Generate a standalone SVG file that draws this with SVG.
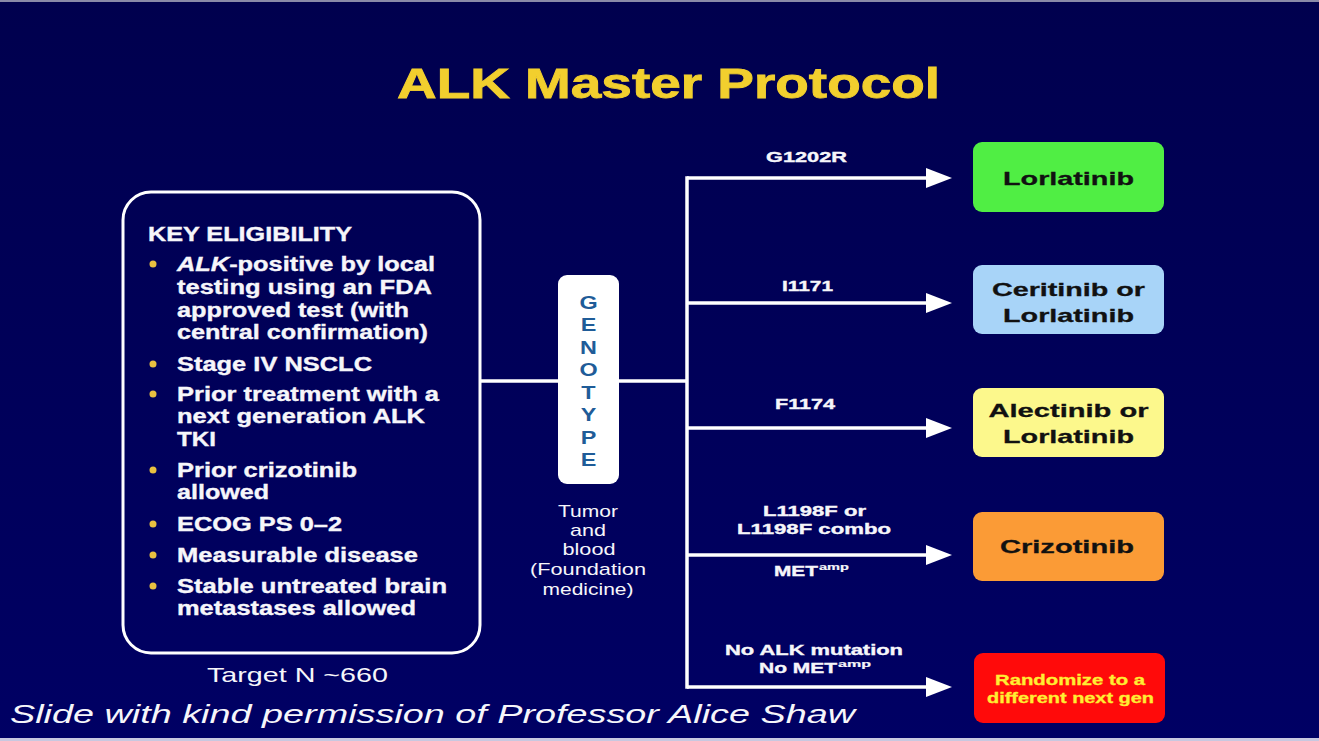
<svg xmlns="http://www.w3.org/2000/svg" width="1319" height="741" viewBox="0 0 1319 741">
<defs>
<linearGradient id="bg" x1="0" y1="0" x2="0" y2="1">
<stop offset="0" stop-color="#00004e"/>
<stop offset="1" stop-color="#000064"/>
</linearGradient>
<marker id="arr" markerUnits="userSpaceOnUse" markerWidth="26" markerHeight="20" refX="14" refY="10" orient="auto">
<path d="M0,0 L26,10 L0,20 z" fill="#ffffff"/>
</marker>
<style>
.t{font-family:"Liberation Sans",Arial,sans-serif;font-weight:bold;fill:#f6f6fa;stroke:#f6f6fa;stroke-width:0.35}
.el{font-size:19.5px}
.lab{font-size:14px}
.sup{font-size:9px;stroke-width:0.2}
.drug{font-family:"Liberation Sans",Arial,sans-serif;font-weight:bold;font-size:19px;fill:#111111;stroke:#111111;stroke-width:0.3;text-anchor:middle}
.geno{font-family:"Liberation Sans",Arial,sans-serif;font-weight:bold;font-size:18px;fill:#1f5c98;text-anchor:middle}
.reg{font-family:"Liberation Sans",Arial,sans-serif;fill:#f6f6fa}
.bul{fill:#e8c040}
.conn{stroke:#ffffff;stroke-width:3.5;fill:none}
.rbox{stroke:none}
</style>
</defs>
<rect x="0" y="0" width="1319" height="741" fill="url(#bg)"/>
<rect x="0" y="0" width="1319" height="2" fill="#8a8aa8"/>
<rect x="0" y="738" width="1319" height="3" fill="#c8c8e0"/>

<text x="397" y="98" font-family="Liberation Sans, Arial, sans-serif" font-weight="bold" font-size="42" fill="#f2cf2e" stroke="#f2cf2e" stroke-width="0.8" textLength="543" lengthAdjust="spacingAndGlyphs">ALK Master Protocol</text>

<g id="connectors">
<path class="conn" d="M481,381 H687"/>
<path class="conn" d="M687,176.25 V688.75"/>
<path class="conn" d="M687,178 H940" marker-end="url(#arr)"/>
<path class="conn" d="M687,303 H940" marker-end="url(#arr)"/>
<path class="conn" d="M687,428 H940" marker-end="url(#arr)"/>
<path class="conn" d="M687,555 H940" marker-end="url(#arr)"/>
<path class="conn" d="M687,687 H940" marker-end="url(#arr)"/>
</g>

<g id="eligibility">
<rect x="123" y="192" width="357" height="461" rx="28" fill="none" stroke="#ffffff" stroke-width="3"/>
<text class="t el" x="148" y="241" textLength="204" lengthAdjust="spacingAndGlyphs">KEY ELIGIBILITY</text>
<circle class="bul" cx="153" cy="264" r="3.5"/>
<text class="t el" x="177" y="271" textLength="258" lengthAdjust="spacingAndGlyphs"><tspan font-style="italic">ALK</tspan>-positive by local</text>
<text class="t el" x="177" y="294" textLength="255" lengthAdjust="spacingAndGlyphs">testing using an FDA</text>
<text class="t el" x="177" y="317" textLength="232" lengthAdjust="spacingAndGlyphs">approved test (with</text>
<text class="t el" x="177" y="339" textLength="251" lengthAdjust="spacingAndGlyphs">central confirmation)</text>
<circle class="bul" cx="153" cy="364" r="3.5"/>
<text class="t el" x="177" y="371" textLength="195" lengthAdjust="spacingAndGlyphs">Stage IV NSCLC</text>
<circle class="bul" cx="153" cy="394" r="3.5"/>
<text class="t el" x="177" y="401" textLength="262" lengthAdjust="spacingAndGlyphs">Prior treatment with a</text>
<text class="t el" x="177" y="423" textLength="248" lengthAdjust="spacingAndGlyphs">next generation ALK</text>
<text class="t el" x="177" y="446" textLength="39" lengthAdjust="spacingAndGlyphs">TKI</text>
<circle class="bul" cx="153" cy="470" r="3.5"/>
<text class="t el" x="177" y="477" textLength="180" lengthAdjust="spacingAndGlyphs">Prior crizotinib</text>
<text class="t el" x="177" y="499" textLength="92" lengthAdjust="spacingAndGlyphs">allowed</text>
<circle class="bul" cx="153" cy="524" r="3.5"/>
<text class="t el" x="177" y="531" textLength="165" lengthAdjust="spacingAndGlyphs">ECOG PS 0–2</text>
<circle class="bul" cx="153" cy="555" r="3.5"/>
<text class="t el" x="177" y="562" textLength="241" lengthAdjust="spacingAndGlyphs">Measurable disease</text>
<circle class="bul" cx="153" cy="586" r="3.5"/>
<text class="t el" x="177" y="593" textLength="270" lengthAdjust="spacingAndGlyphs">Stable untreated brain</text>
<text class="t el" x="177" y="615" textLength="239" lengthAdjust="spacingAndGlyphs">metastases allowed</text>
</g>

<g id="target">
<text class="reg" x="207" y="682" font-size="21" textLength="181" lengthAdjust="spacingAndGlyphs">Target N ~660</text>
</g>

<g id="genotype">
<rect x="558" y="275" width="61" height="209" rx="9" fill="#ffffff"/>
<g transform="translate(588.5,0) scale(1.3,1)">
<text class="geno" x="0" y="309">G</text>
<text class="geno" x="0" y="331.5">E</text>
<text class="geno" x="0" y="354">N</text>
<text class="geno" x="0" y="376.5">O</text>
<text class="geno" x="0" y="399">T</text>
<text class="geno" x="0" y="421.5">Y</text>
<text class="geno" x="0" y="444">P</text>
<text class="geno" x="0" y="466.5">E</text>
</g>
</g>

<g id="sample">
<text class="reg" x="588" y="517" font-size="17" text-anchor="middle" textLength="60" lengthAdjust="spacingAndGlyphs">Tumor</text>
<text class="reg" x="588" y="536" font-size="17" text-anchor="middle" textLength="36" lengthAdjust="spacingAndGlyphs">and</text>
<text class="reg" x="589" y="555" font-size="17" text-anchor="middle" textLength="53" lengthAdjust="spacingAndGlyphs">blood</text>
<text class="reg" x="588" y="575" font-size="17" text-anchor="middle" textLength="116" lengthAdjust="spacingAndGlyphs">(Foundation</text>
<text class="reg" x="588" y="595" font-size="17" text-anchor="middle" textLength="91" lengthAdjust="spacingAndGlyphs">medicine)</text>
</g>

<g id="labels">
<text class="t lab" x="766" y="162" textLength="81" lengthAdjust="spacingAndGlyphs">G1202R</text>
<text class="t lab" x="782" y="291" textLength="51" lengthAdjust="spacingAndGlyphs">I1171</text>
<text class="t lab" x="775" y="409" textLength="60" lengthAdjust="spacingAndGlyphs">F1174</text>
<text class="t lab" x="763" y="516" textLength="103" lengthAdjust="spacingAndGlyphs">L1198F or</text>
<text class="t lab" x="737" y="534" textLength="154" lengthAdjust="spacingAndGlyphs">L1198F combo</text>
<text class="t lab" x="774" y="576" textLength="44" lengthAdjust="spacingAndGlyphs">MET</text>
<text class="t sup" x="819" y="570" textLength="30" lengthAdjust="spacingAndGlyphs">amp</text>
<text class="t lab" x="725" y="655" textLength="178" lengthAdjust="spacingAndGlyphs">No ALK mutation</text>
<text class="t lab" x="759" y="673" textLength="78" lengthAdjust="spacingAndGlyphs">No MET</text>
<text class="t sup" x="838" y="667" textLength="33" lengthAdjust="spacingAndGlyphs">amp</text>
</g>

<g id="lorlatinib">
<rect class="rbox" x="973" y="142" width="191" height="70" rx="9" fill="#50ee44"/>
<text class="drug" x="1068.5" y="185" textLength="131" lengthAdjust="spacingAndGlyphs">Lorlatinib</text>
</g>
<g id="ceritinib">
<rect class="rbox" x="973" y="265" width="191" height="69" rx="9" fill="#a8d4f8"/>
<text class="drug" x="1068.5" y="296" textLength="153" lengthAdjust="spacingAndGlyphs">Ceritinib or</text>
<text class="drug" x="1068.5" y="322" textLength="131" lengthAdjust="spacingAndGlyphs">Lorlatinib</text>
</g>
<g id="alectinib">
<rect class="rbox" x="973" y="388" width="191" height="69" rx="9" fill="#fcf88c"/>
<text class="drug" x="1068.5" y="417" textLength="160" lengthAdjust="spacingAndGlyphs">Alectinib or</text>
<text class="drug" x="1068.5" y="443" textLength="131" lengthAdjust="spacingAndGlyphs">Lorlatinib</text>
</g>
<g id="crizotinib">
<rect class="rbox" x="973" y="512" width="191" height="69" rx="9" fill="#fb9b36"/>
<text class="drug" x="1067" y="553" textLength="134" lengthAdjust="spacingAndGlyphs">Crizotinib</text>
</g>
<g id="randomize">
<rect class="rbox" x="974" y="653" width="191" height="70" rx="9" fill="#ff0a0a"/>
<text class="drug" x="1070" y="685" style="font-size:14px;fill:#ffee33;stroke:#ffee33" textLength="150" lengthAdjust="spacingAndGlyphs">Randomize to a</text>
<text class="drug" x="1070.5" y="703" style="font-size:14px;fill:#ffee33;stroke:#ffee33" textLength="167" lengthAdjust="spacingAndGlyphs">different next gen</text>
</g>

<g id="credit">
<text class="reg" x="10" y="723" font-size="25" font-style="italic" textLength="845" lengthAdjust="spacingAndGlyphs">Slide with kind permission of Professor Alice Shaw</text>
</g>
</svg>
